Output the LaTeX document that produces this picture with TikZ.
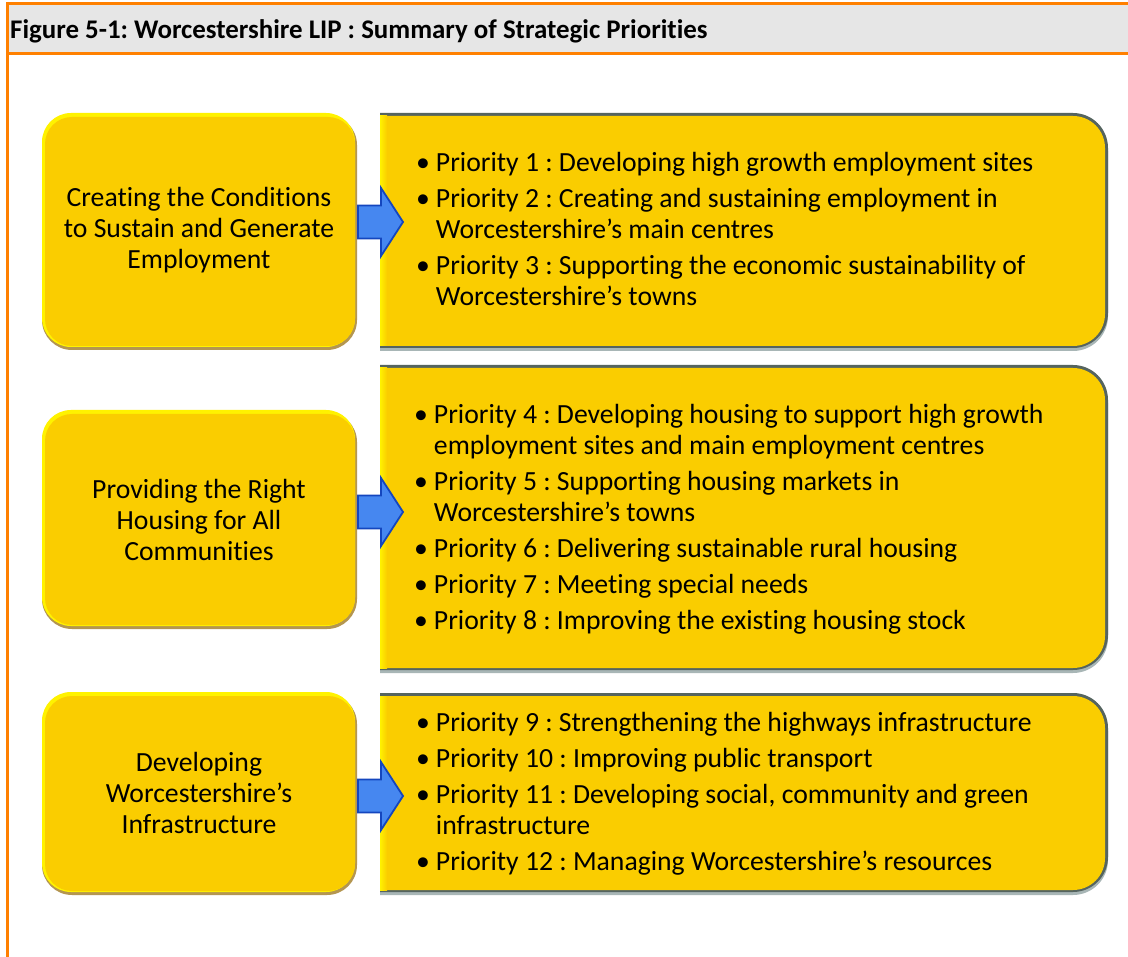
\documentclass[tikz,border=0pt]{standalone}
\usepackage{fontspec}
\setmainfont{Carlito}[RawFeature=-liga]
\frenchspacing
\definecolor{gold}{RGB}{250,205,0}
\definecolor{brightyellow}{RGB}{255,242,0}
\definecolor{edgedark}{RGB}{180,150,80}
\definecolor{rimdark}{RGB}{85,100,95}
\definecolor{rimlight}{RGB}{168,182,182}
\definecolor{headgray}{RGB}{230,230,230}
\definecolor{framecolor}{RGB}{255,128,0}
\definecolor{arrowfill}{RGB}{70,135,240}
\definecolor{arrowedge}{RGB}{20,70,190}
\begin{document}
\begin{tikzpicture}[x=1pt,y=-1pt,
  frameline/.style={draw=framecolor,line width=3pt},
  lefttext/.style={align=center,inner sep=0pt,font=\fontsize{27.7}{31}\selectfont},
  listtext/.style={anchor=base west,inner sep=0pt,font=\fontsize{27.7}{31}\selectfont},
  blockarrow/.style={fill=arrowfill,draw=arrowedge,line width=1.8pt,line join=miter}]
\useasboundingbox (0,0) rectangle (1128,957);
\fill[white] (0,0) rectangle (1128,957);

% title bar and frame
\fill[headgray] (6,3.5) rectangle (1128,54);
\draw[frameline] (6,3.5) -- (1128,3.5);
\draw[frameline] (6,54) -- (1128,54);
\draw[frameline] (7.5,2) -- (7.5,957);
\node[anchor=base west,inner sep=0pt,font=\fontsize{26.9}{30}\selectfont\bfseries] (title) at (10,38.5)
  {Figure 5-1: Worcestershire LIP : Summary of Strategic Priorities};

% theme boxes on the left
\foreach \ya/\yb in {113/350, 410/629, 692/895} {
  \fill[edgedark,rounded corners=30pt] (42,\ya+2) rectangle (357,\yb);
  \fill[brightyellow,rounded corners=29pt] (42,\ya) rectangle (355,\yb-3);
  \fill[gold,rounded corners=27pt] (45,\ya+4) rectangle (355,\yb-4);
}

% priority panels on the right
\foreach \ya/\yb in {113/348, 365/670, 693/892} {
  \fill[rimlight] (380,\ya+3) -- (1073,\ya+3) arc[start angle=-90,end angle=0,radius=35]
    -- (1108,\yb-32) arc[start angle=0,end angle=90,radius=35] -- (380,\yb+3) -- cycle;
  \fill[rimdark] (380,\ya) -- (1073,\ya) arc[start angle=-90,end angle=0,radius=35]
    -- (1108,\yb-35) arc[start angle=0,end angle=90,radius=35] -- (380,\yb) -- cycle;
  \fill[gold] (380,\ya+3) -- (1073,\ya+3) arc[start angle=-90,end angle=0,radius=32]
    -- (1105,\yb-34) arc[start angle=0,end angle=90,radius=32] -- (380,\yb-2) -- cycle;
  \shade[left color=brightyellow,right color=gold] (380,\ya+3) rectangle (387,\yb-2);
}

% theme labels
\node[lefttext] (t1) at (199,230) {Creating the Conditions\\to Sustain and Generate\\Employment};
\node[lefttext] (t2) at (199,520) {Providing the Right\\Housing for All\\Communities};
\node[lefttext] (t3) at (199,793) {Developing\\Worcestershire’s\\Infrastructure};

% priority lists
\node[listtext] (p1) at (416,172) {%
  \begin{tabular}[t]{@{}l@{\hspace{6pt}}l@{}}
  \textbullet & Priority 1 : Developing high growth employment sites\\[5pt]
  \textbullet & Priority 2 : Creating and sustaining employment in\\
              & Worcestershire’s main centres\\[5pt]
  \textbullet & Priority 3 : Supporting the economic sustainability of\\
              & Worcestershire’s towns
  \end{tabular}};
\node[listtext] (p2) at (414,424) {%
  \begin{tabular}[t]{@{}l@{\hspace{6pt}}l@{}}
  \textbullet & Priority 4 : Developing housing to support high growth\\
              & employment sites and main employment centres\\[5pt]
  \textbullet & Priority 5 : Supporting housing markets in\\
              & Worcestershire’s towns\\[5pt]
  \textbullet & Priority 6 : Delivering sustainable rural housing\\[5pt]
  \textbullet & Priority 7 : Meeting special needs\\[5pt]
  \textbullet & Priority 8 : Improving the existing housing stock
  \end{tabular}};
\node[listtext] (p3) at (416,731) {%
  \begin{tabular}[t]{@{}l@{\hspace{6pt}}l@{}}
  \textbullet & Priority 9 : Strengthening the highways infrastructure\\[5pt]
  \textbullet & Priority 10 : Improving public transport\\[5pt]
  \textbullet & Priority 11 : Developing social, community and green\\
              & infrastructure\\[5pt]
  \textbullet & Priority 12 : Managing Worcestershire’s resources
  \end{tabular}};

% block arrows from each theme to its priorities
\coordinate (a1) at (358,222);
\coordinate (a2) at (358,512);
\coordinate (a3) at (358,796);
\foreach \a in {a1,a2,a3} {
  \draw[blockarrow] (\a) ++(0,-16.5) -- ++(23,0) -- ++(0,-17.5) -- ++(22,34)
    -- ++(-22,34) -- ++(0,-17.5) -- ++(-23,0) -- cycle;
}
\end{tikzpicture}
\end{document}
